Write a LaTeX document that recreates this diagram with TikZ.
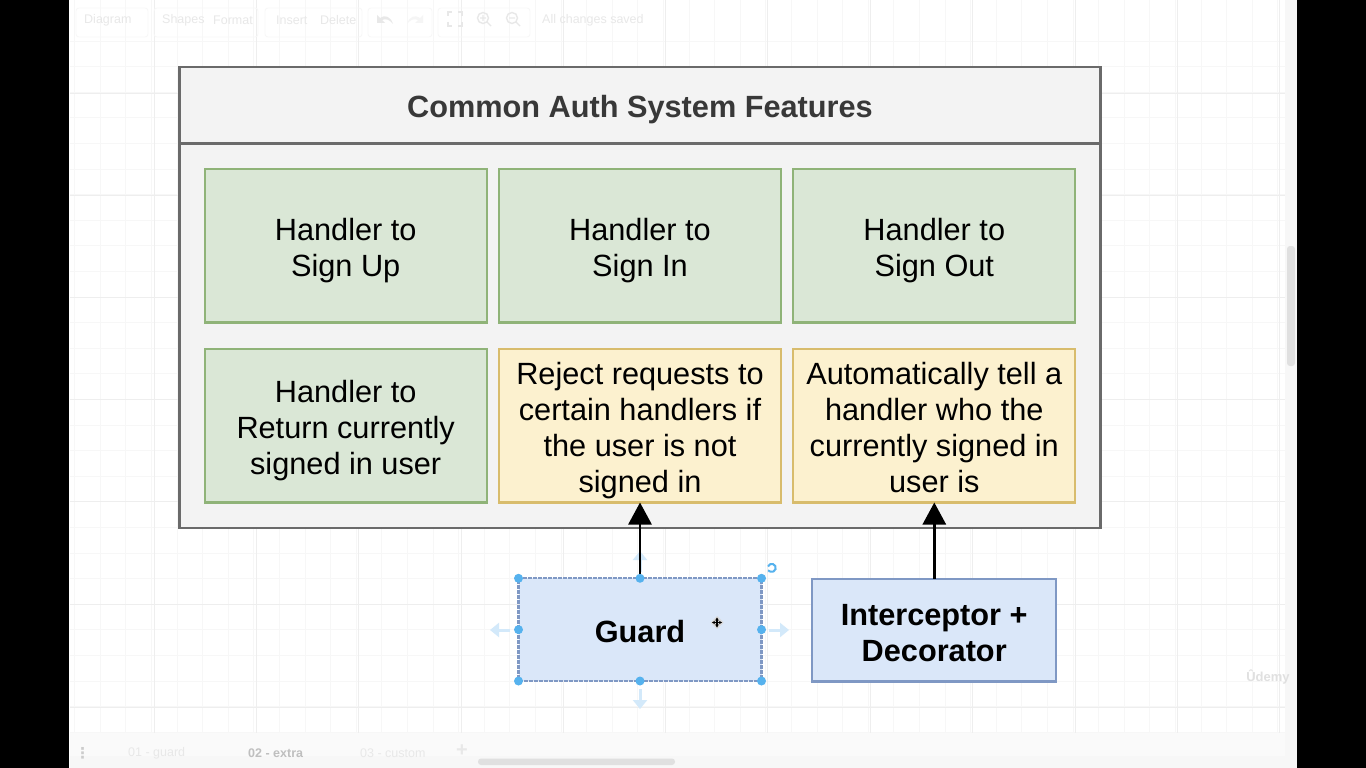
\documentclass[tikz,border=0pt]{standalone}
\usepackage{fontspec}
\setmainfont{Liberation Sans}
\newfontfamily\symfont{DejaVu Sans}
\usetikzlibrary{arrows.meta}
\definecolor{gridminor}{HTML}{F7F7F7}
\definecolor{gridmajor}{HTML}{EEEEEE}
\definecolor{panelfill}{HTML}{F3F3F3}
\definecolor{panelline}{HTML}{6A6A6A}
\definecolor{greenfill}{HTML}{DAE7D6}
\definecolor{greenline}{HTML}{8FB378}
\definecolor{yellowfill}{HTML}{FCF1CF}
\definecolor{yellowline}{HTML}{D8BC6C}
\definecolor{bluefill}{HTML}{DAE7F9}
\definecolor{blueline}{HTML}{7F98C4}
\definecolor{handle}{HTML}{56B2EE}
\definecolor{ghost}{HTML}{D3E9FA}
\definecolor{uifaint}{HTML}{E8E8E8}
\newcommand{\topstrut}{\rule{0pt}{31pt}}
\newcommand{\botstrut}{\rule[-5pt]{0pt}{5pt}}
\tikzset{
  x=1pt,y=-1pt,
  panelbox/.style={draw=panelline,fill=panelfill,line width=2.5pt,minimum width=#1,anchor=north west,inner sep=0pt,outer sep=0pt},
  textblock/.style={align=center,inner sep=0pt,outer sep=0pt},
  card/.style={textblock,line width=2.3pt,minimum width=282pt,minimum height=153.5pt,anchor=north west,font=\fontsize{30.7}{36}\selectfont},
  greencard/.style={card,draw=greenline,fill=greenfill},
  yellowcard/.style={card,draw=yellowline,fill=yellowfill},
  bluecard/.style={textblock,line width=2.3pt,fill=bluefill,draw=blueline,anchor=north west,minimum height=102.7pt,font=\fontsize{30.7}{36}\selectfont\bfseries},
  link/.style={draw=black,line width=2.8pt,-{Triangle[length=22pt,width=23pt]}},
  grip/.style={circle,fill=handle,minimum size=9pt,inner sep=0pt},
  ghostarrow/.style={draw=ghost,line width=3pt,-{Triangle[length=9pt,width=14pt]}},
  uitext/.style={text=uifaint,font=\fontsize{12.5}{14}\selectfont,inner sep=0pt},
}
\begin{document}
\begin{tikzpicture}
\useasboundingbox (0,0) rectangle (1366,768);
\fill[white] (0,0) rectangle (1366,768);
% canvas grid
\foreach \i in {0,...,47} {
  \pgfmathsetmacro\gx{74.6+25.6*\i}
  \draw[gridminor,line width=0.8pt] (\gx,0) -- (\gx,735);
}
\foreach \i in {0,...,27} {
  \pgfmathsetmacro\gy{41+25.6*\i}
  \draw[gridminor,line width=0.8pt] (70,\gy) -- (1285,\gy);
}
\foreach \gx in {154,256,358,461,563,665,767,870,972,1075,1177,1279} {
  \draw[gridmajor,line width=0.8pt] (\gx,0) -- (\gx,735);
}
\foreach \gy in {93,195,297,399,501,604,707} {
  \draw[gridmajor,line width=0.8pt] (70,\gy) -- (1285,\gy);
}
% side strips and bars
\fill[black!2] (70,733) rectangle (1297,768);
\fill[black!3] (70,756) rectangle (1297,768);
\fill[black!3] (1285,0) rectangle (1297,768);
\fill[black] (0,0) rectangle (69,768);
\fill[black] (1297,0) rectangle (1366,768);
\fill[black!12,rounded corners=3pt] (478,758.5) rectangle (675,765);
\fill[black!12,rounded corners=3pt] (1287,246) rectangle (1295,366);
% toolbar groups
\draw[black!3,line width=0.8pt,rounded corners=3pt] (76,8) rectangle (148,37);
\draw[black!3,line width=0.8pt,rounded corners=3pt] (154,8) rectangle (258,37);
\draw[black!3,line width=0.8pt,rounded corners=3pt] (265,8) rectangle (362,37);
\draw[black!3,line width=0.8pt,rounded corners=3pt] (368,8) rectangle (432,37);
\draw[black!3,line width=0.8pt,rounded corners=3pt] (438,8) rectangle (530,37);
% ui text
\node[uitext,anchor=west] (ui1) at (84,20) {Diagram};
\node[uitext,anchor=west] (ui2) at (162,20) {Shapes};
\node[uitext,anchor=west] (ui3) at (213,20) {Format};
\node[uitext,anchor=west] (ui4) at (276,20) {Insert};
\node[uitext,anchor=west] (ui5) at (320,20) {Delete};
\node[uitext,anchor=west] (ui6) at (542,20) {All changes saved};
\draw[uifaint,line width=1.4pt] (448,16) -- (448,12) -- (452,12) (458,12) -- (462,12) -- (462,16) (448,22) -- (448,26) -- (452,26) (458,26) -- (462,26) -- (462,22);
\draw[uifaint,line width=1.4pt] (483,18) circle (5.5pt) (487,22) -- (491,26) (480,18) -- (486,18) (483,15) -- (483,21);
\draw[uifaint,line width=1.4pt] (512,18) circle (5.5pt) (516,22) -- (520,26) (509,18) -- (515,18);
\fill[uifaint] (377,15) -- (377,23) -- (385,23) -- (382,20) .. controls (386,18) and (390,20) .. (393,24) .. controls (391,17) and (385,14) .. (380,18) -- cycle;
\fill[black!4] (423,15) -- (423,23) -- (415,23) -- (418,20) .. controls (414,18) and (410,20) .. (407,24) .. controls (409,17) and (415,14) .. (420,18) -- cycle;
\node[uitext,anchor=west] (tab1) at (128,753) {01 - guard};
\node[uitext,anchor=west,font=\fontsize{12.5}{14}\selectfont\bfseries,text=black!25] (tab2) at (248,753) {02 - extra};
\node[uitext,anchor=west] (tab3) at (360,753) {03 - custom};
\node[uitext,font=\fontsize{20}{20}\selectfont\bfseries] (tabadd) at (462,751) {+};
\node[uitext,font=\fontsize{15}{15}\symfont\selectfont\bfseries,text=black!20] (tabmenu) at (82.5,753) {⋮};
\node[text=black!12,font=\fontsize{13}{14}\selectfont\bfseries,inner sep=0pt] (wm) at (1268,677) {Ûdemy};
% panel
\node[panelbox=921pt,minimum height=461pt] (panel) at (179.7,66.8) {};
\node[panelbox=921pt,minimum height=76.5pt] (title) at (179.7,66.8) {};
\node[font=\fontsize{30.7}{36}\selectfont\bfseries,text=black!78,inner sep=0pt] (titletext) at (640,110) {Common Auth System Features};
% cards
\node[greencard] (signup) at (204.7,169) {\topstrut Handler to\\Sign Up\botstrut};
\node[greencard] (signin) at (499,169) {\topstrut Handler to\\Sign In\botstrut};
\node[greencard] (signout) at (793.3,169) {\topstrut Handler to\\Sign Out\botstrut};
\node[greencard] (current) at (204.7,349) {\topstrut Handler to\\Return currently\\signed in user\botstrut};
\node[yellowcard] (reject) at (499,349) {\topstrut Reject requests to\\certain handlers if\\the user is not\\signed in\botstrut};
\node[yellowcard] (tell) at (793.3,349) {\topstrut Automatically tell a\\handler who the\\currently signed in\\user is\botstrut};
% ghost arrows (behind connector)
\coordinate (gtA) at (640,572);
\coordinate (gtB) at (640,551);
\draw[ghostarrow] (gtA) -- (gtB);
% guard + interceptor
\node[bluecard,minimum width=243pt,dash pattern=on 4pt off 1pt] (guard) at (518.5,578.3) {\topstrut Guard\botstrut};
\node[bluecard,minimum width=244pt] (interceptor) at (812.2,578.7) {\topstrut Interceptor +\\Decorator\botstrut};
% connectors
\draw[link] (guard.north) -- (reject.south);
\draw[link] (tell.south |- interceptor.north) -- (tell.south);
% handles
\foreach \p in {north west,north,north east,west,east,south west,south,south east} {
  \node[grip] at (guard.\p) {};
}
\coordinate (glA) at (510,630); \coordinate (glB) at (490,630);
\coordinate (grA) at (769,630); \coordinate (grB) at (789,630);
\coordinate (gbA) at (640,689); \coordinate (gbB) at (640,709);
\draw[ghostarrow] (glA) -- (glB);
\draw[ghostarrow] (grA) -- (grB);
\draw[ghostarrow] (gbA) -- (gbB);
% rotate handle
\draw[handle,line width=2pt,->,>={Stealth[length=3pt]}] (768,566.5) arc[start angle=160,end angle=-160,radius=4pt];
% move cursor
\fill[black!15] (717,616) -- (723.5,622.5) -- (717,629) -- (710.5,622.5) -- cycle;
\draw[black,line width=1.3pt,<->,>={Stealth[length=3pt,width=3.5pt]}] (712,622.5) -- (722,622.5);
\draw[black,line width=1.3pt,<->,>={Stealth[length=3pt,width=3.5pt]}] (717,617.5) -- (717,627.5);
\end{tikzpicture}
\end{document}
